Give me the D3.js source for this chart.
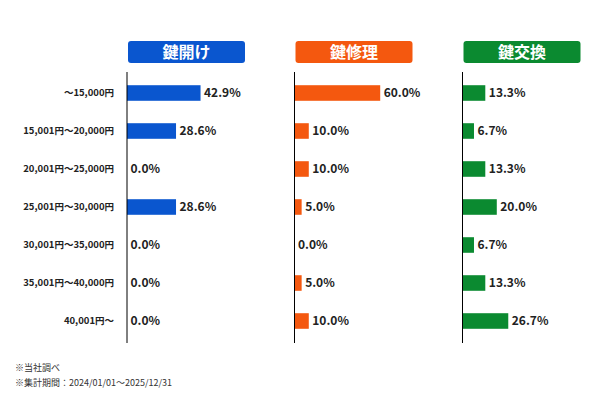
<!DOCTYPE html>
<html>
<head>
<meta charset="utf-8">
<script src="https://cdn.jsdelivr.net/npm/d3@7"></script>
<style>
  body { margin: 0; background: #fff; }
  text { font-family: "Noto Sans CJK JP", "Noto Sans", sans-serif; }
</style>
</head>
<body>
<script>
// price ranges (rows)
const categories = ["～15,000円", "15,001円～20,000円", "20,001円～25,000円", "25,001円～30,000円",
                    "30,001円～35,000円", "35,001円～40,000円", "40,001円～"];
// service panels
const services = ["鍵開け", "鍵修理", "鍵交換"];
const unlockValues = [42.9, 28.6, 0.0, 28.6, 0.0, 0.0, 0.0];
const repairValues = [60.0, 10.0, 10.0, 5.0, 0.0, 5.0, 10.0];
const replaceValues = [13.3, 6.7, 13.3, 20.0, 6.7, 13.3, 26.7];
const domainMax = [70, 84, 70];
const notes = ["※当社調べ", "※集計期間：2024/01/01～2025/12/31"];

const series = [unlockValues, repairValues, replaceValues];
const colors = ["#0a56cf", "#f4580f", "#0b8a30"];

const width = 600;
const height = 400;

const svg = d3.select("body").append("svg")
    .attr("width", width)
    .attr("height", height);

// Row positions shared by all panels
const yScale = d3.scaleBand()
    .domain(categories)
    .range([74, 340])
    .paddingInner(0.59)
    .paddingOuter(0.295);

// Category labels on the left
svg.append("g")
    .selectAll("text")
    .data(categories)
    .join("text")
    .attr("x", 114)
    .attr("y", d => yScale(d) + yScale.bandwidth() / 2)
    .attr("dy", "0.35em")
    .attr("text-anchor", "end")
    .attr("font-size", 9.5)
    .attr("font-weight", "bold")
    .attr("fill", "#222")
    .text(d => d);

const panelLeft = [127, 294.5, 462.5];
const panelWidth = 120;

services.forEach((name, i) => {
    const g = svg.append("g").attr("transform", `translate(${panelLeft[i]},0)`);
    const xScale = d3.scaleLinear().domain([0, domainMax[i]]).range([0, panelWidth]);
    const rows = categories.map((c, j) => ({ category: c, value: series[i][j] }));

    // header box
    g.append("rect")
        .attr("x", 1)
        .attr("y", 41)
        .attr("width", 117)
        .attr("height", 22)
        .attr("rx", 3)
        .attr("fill", colors[i]);

    g.append("text")
        .attr("x", 59.5)
        .attr("y", 52)
        .attr("dy", "0.36em")
        .attr("text-anchor", "middle")
        .attr("font-size", 16)
        .attr("font-weight", "bold")
        .attr("fill", "#fff")
        .text(name);

    // bars
    g.append("g")
        .selectAll("rect")
        .data(rows)
        .join("rect")
        .attr("x", 0)
        .attr("y", d => yScale(d.category))
        .attr("width", d => xScale(d.value))
        .attr("height", yScale.bandwidth())
        .attr("fill", colors[i]);

    // value labels
    g.append("g")
        .selectAll("text")
        .data(rows)
        .join("text")
        .attr("x", d => xScale(d.value) + 3.5)
        .attr("y", d => yScale(d.category) + yScale.bandwidth() / 2)
        .attr("dy", "0.35em")
        .attr("font-size", 12)
        .attr("font-weight", "bold")
        .attr("fill", "#222")
        .text(d => d.value.toFixed(1) + "%");

    // vertical axis line
    g.append("line")
        .attr("x1", 0).attr("x2", 0)
        .attr("y1", 72).attr("y2", 343)
        .attr("stroke", "#000")
        .attr("stroke-width", 1);
});

// footnotes
svg.append("g")
    .selectAll("text")
    .data(notes)
    .join("text")
    .attr("x", 15)
    .attr("y", (d, i) => 368 + i * 15)
    .attr("dy", "0.35em")
    .attr("font-size", 9)
    .attr("fill", "#333")
    .text(d => d);
</script>
</body>
</html>
